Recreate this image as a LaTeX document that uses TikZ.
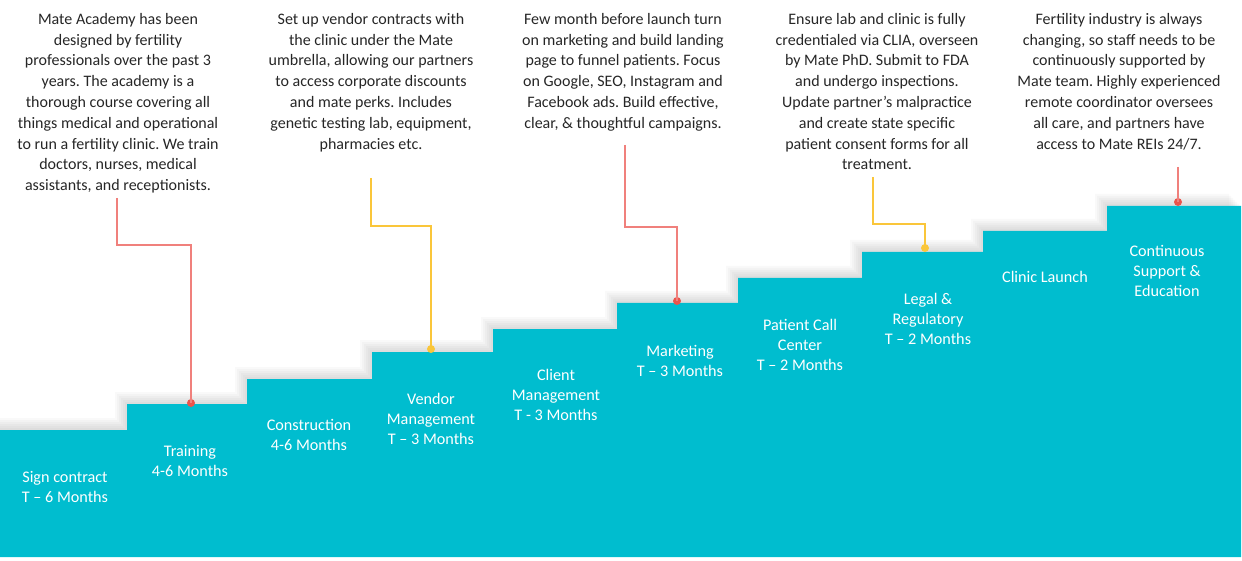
\documentclass[tikz,border=0pt]{standalone}
\usepackage{fontspec}
\setmainfont{Carlito}
\frenchspacing

\definecolor{stairteal}{RGB}{0,189,207}
\definecolor{leadred}{RGB}{240,128,124}
\definecolor{dotred}{RGB}{234,84,76}
\definecolor{leadyellow}{RGB}{250,198,58}

\tikzset{
    note/.style={align=center, inner sep=0pt, text=black!85,
        font=\fontsize{16}{20.8}\selectfont},
    steplabel/.style={align=center, inner sep=0pt, text=white,
        font=\fontsize{16.2}{20}\selectfont},
    leader/.style={line width=1.5pt},
    stopdot/.style={circle, inner sep=0pt, minimum size=8pt},
}

% outline of the staircase, in pixel units
\newcommand{\stairpath}{(0,557) -- (0,430) -- (127,430) -- (127,404)
    -- (247,404) -- (247,379) -- (372,379) -- (372,352) -- (493,352)
    -- (493,329) -- (617,329) -- (617,303) -- (738,303) -- (738,278)
    -- (862,278) -- (862,252) -- (983,252) -- (983,231) -- (1107,231)
    -- (1107,206) -- (1241,206) -- (1241,557) -- cycle}

\begin{document}
\begin{tikzpicture}[x={(1pt,0pt)}, y={(0pt,-1pt)}]
    \useasboundingbox (0,0) rectangle (1242,561);

    % soft shadow above the stairs
    \foreach \k in {2,4,...,12}
        \fill[black, opacity=0.025, xshift=-\k pt, yshift=\k pt] \stairpath;
    \fill[stairteal] \stairpath;

    % notes along the top
    \node[note, anchor=north] (academy) at (118,13) {Mate Academy has been\\
        designed by fertility\\ professionals over the past 3\\
        years. The academy is a\\ thorough course covering all\\
        things medical and operational\\ to run a fertility clinic. We train\\
        doctors, nurses, medical\\ assistants, and receptionists.};
    \node[note, anchor=north] (vendors) at (371,13) {Set up vendor contracts with\\
        the clinic under the Mate\\ umbrella, allowing our partners\\
        to access corporate discounts\\ and mate perks. Includes\\
        genetic testing lab, equipment,\\ pharmacies etc.};
    \node[note, anchor=north] (funnel) at (623,13) {Few month before launch turn\\
        on marketing and build landing\\ page to funnel patients. Focus\\
        on Google, SEO, Instagram and\\ Facebook ads. Build effective,\\
        clear, \& thoughtful campaigns.};
    \node[note, anchor=north] (clia) at (877,13) {Ensure lab and clinic is fully\\
        credentialed via CLIA, overseen\\ by Mate PhD. Submit to FDA\\
        and undergo inspections.\\ Update partner’s malpractice\\
        and create state specific\\ patient consent forms for all\\
        treatment.};
    \node[note, anchor=north] (support) at (1119,13) {Fertility industry is always\\
        changing, so staff needs to be\\ continuously supported by\\
        Mate team. Highly experienced\\ remote coordinator oversees\\
        all care, and partners have\\ access to Mate REIs 24/7.};

    % labels on the steps
    \node[steplabel] (sign) at (65,487) {Sign contract\\ T – 6 Months};
    \node[steplabel] (training) at (190,461) {Training\\ 4-6 Months};
    \node[steplabel] (construction) at (309,435) {Construction\\ 4-6 Months};
    \node[steplabel] (vendor) at (431,419) {Vendor\\ Management\\ T – 3 Months};
    \node[steplabel] (client) at (556,395) {Client\\ Management\\ T - 3 Months};
    \node[steplabel] (marketing) at (680,361) {Marketing\\ T – 3 Months};
    \node[steplabel] (callcenter) at (800,345) {Patient Call\\ Center\\ T – 2 Months};
    \node[steplabel] (legal) at (928,319) {Legal \&\\ Regulatory\\ T – 2 Months};
    \node[steplabel] (launch) at (1045,277) {Clinic Launch};
    \node[steplabel] (education) at (1167,271) {Continuous\\ Support \&\\ Education};

    % leader lines from the notes down to the steps
    \coordinate (lead1) at (117,198);
    \coordinate (lead2) at (371,178);
    \coordinate (lead3) at (625,145);
    \coordinate (lead4) at (873,177);
    \coordinate (lead5) at (1178,167);

    \node[stopdot, fill=dotred] (dot1) at (191,403) {};
    \node[stopdot, fill=leadyellow] (dot2) at (431,349) {};
    \node[stopdot, fill=dotred] (dot3) at (677,301) {};
    \node[stopdot, fill=leadyellow] (dot4) at (925,248) {};
    \node[stopdot, fill=dotred] (dot5) at (1178,202) {};

    \draw[leader, leadred] (lead1) |- (191,245) -- (dot1.center);
    \draw[leader, leadyellow] (lead2) |- (431,226) -- (dot2.center);
    \draw[leader, leadred] (lead3) |- (677,227) -- (dot3.center);
    \draw[leader, leadyellow] (lead4) |- (925,224) -- (dot4.center);
    \draw[leader, leadred] (lead5) -- (dot5.center);
\end{tikzpicture}
\end{document}
